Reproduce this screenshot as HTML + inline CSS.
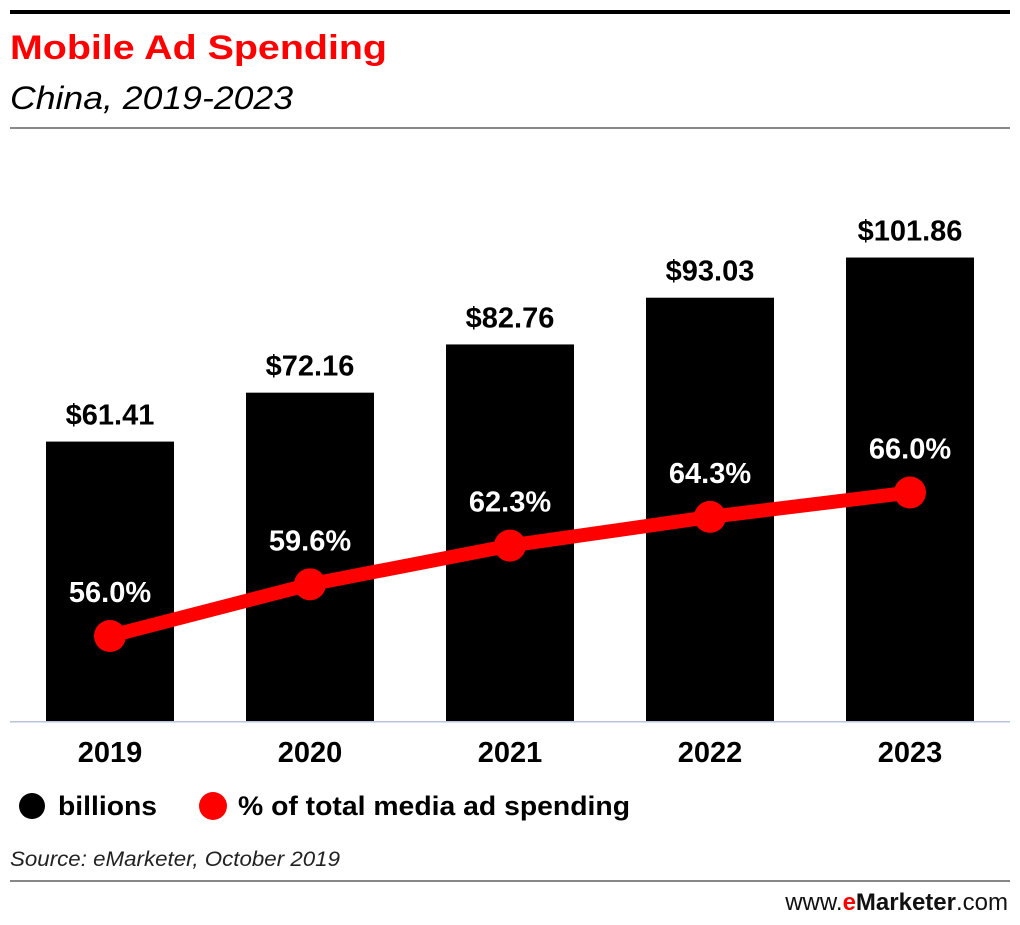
<!DOCTYPE html>
<html><head><meta charset="utf-8">
<style>
body{margin:0;width:1020px;height:920px;background:#fff;overflow:hidden;font-family:"Liberation Sans",sans-serif}
svg text{font-family:"Liberation Sans",sans-serif}
</style></head>
<body>
<svg width="1020" height="920">
<rect x="10" y="10" width="1000" height="4" fill="#000"/>
<text x="10" y="59" font-size="34" font-weight="bold" fill="#f00" textLength="377" lengthAdjust="spacingAndGlyphs">Mobile Ad Spending</text>
<text x="10" y="109" font-size="32" font-style="italic" fill="#000" textLength="283" lengthAdjust="spacingAndGlyphs">China, 2019-2023</text>
<rect x="10" y="127" width="1000" height="2" fill="#888"/>
<g id="plot"></g>
<rect x="10" y="721" width="1000" height="1.5" fill="#b8c4d8"/>
<circle cx="32" cy="806" r="13" fill="#000"/>
<text x="58" y="815" font-size="27" font-weight="bold" textLength="99" lengthAdjust="spacingAndGlyphs">billions</text>
<circle cx="213" cy="806" r="14" fill="#f00"/>
<text x="238" y="815" font-size="27" font-weight="bold" textLength="392" lengthAdjust="spacingAndGlyphs">% of total media ad spending</text>
<text x="10" y="866" font-size="21" font-style="italic" fill="#222" textLength="330" lengthAdjust="spacingAndGlyphs">Source: eMarketer, October 2019</text>
<rect x="10" y="880" width="1000" height="2" fill="#888"/>
<text x="1008" y="910" font-size="24" text-anchor="end" fill="#111">www.<tspan fill="#f00" font-weight="bold">e</tspan><tspan font-weight="bold">Marketer</tspan>.com</text>
</svg>
<script>
const years=["2019","2020","2021","2022","2023"];
const billions=[61.41,72.16,82.76,93.03,101.86];
const billionLabels=["$61.41","$72.16","$82.76","$93.03","$101.86"];
const shares=[56.0,59.6,62.3,64.3,66.0];
const shareLabels=["56.0%","59.6%","62.3%","64.3%","66.0%"];
const NS="http://www.w3.org/2000/svg";
const g=document.getElementById('plot');
const base=721;
const xC=i=>110+i*200;
const yB=v=>base-v*4.55;
const yP=v=>636-(v-56)*14.35;
function mk(t,a,txt){const e=document.createElementNS(NS,t);for(const k in a)e.setAttribute(k,a[k]);if(txt!==undefined)e.textContent=txt;g.appendChild(e);return e;}
years.forEach((y,i)=>{
 const b=mk('rect',{x:xC(i)-64,y:yB(billions[i]),width:128,height:base-yB(billions[i]),fill:'#000'});
 
 
 const l=mk('text',{x:xC(i),y:yB(billions[i])-17,'font-size':29,'font-weight':'bold','text-anchor':'middle'},billionLabels[i]);
 
 
 const t=mk('text',{x:xC(i),y:762,'font-size':29,'font-weight':'bold','text-anchor':'middle'},y);
 
 
});
const pl=mk('polyline',{points:shares.map((v,i)=>xC(i)+','+yP(v)).join(' '),fill:'none',stroke:'#f00','stroke-width':14,'stroke-linejoin':'round'});


shares.forEach((v,i)=>{
 const c=mk('circle',{cx:xC(i),cy:yP(v),r:16,fill:'#f00'});
 
 
 const t=mk('text',{x:xC(i),y:yP(v)-34,'font-size':29,'font-weight':'bold','text-anchor':'middle',fill:'#fff'},shareLabels[i]);
 
 
});
</script>
</body></html>
